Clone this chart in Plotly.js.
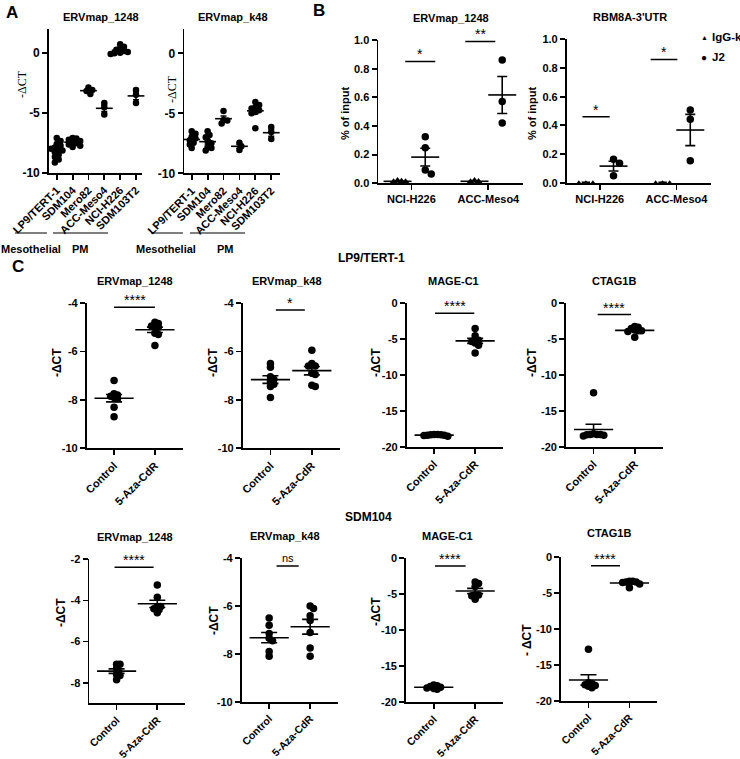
<!DOCTYPE html>
<html><head><meta charset="utf-8">
<script src="https://cdn.plot.ly/plotly-3.0.1.min.js"></script>
<style>html,body{margin:0;padding:0;background:#fff}</style>
</head><body>
<div id="chart" style="width:740px;height:759px"></div>
<script>
// ---------------- DATA ----------------
const cellLines = ['LP9/TERT-1','SDM104','Mero82','ACC-Meso4','NCI-H226','SDM103T2'];
const aErv1248 = [
  [-7.1,-7.35,-7.6,-7.75,-7.9,-8.0,-8.05,-8.15,-8.3,-8.5,-8.7,-8.9,-9.15],
  [-7.1,-7.15,-7.25,-7.35,-7.45,-7.55,-7.65,-7.75,-7.85],
  [-2.9,-3.1,-3.2,-3.45],
  [-4.2,-4.55,-5.15],
  [0.7,0.5,0.35,0.25,0.15,0.05,0.0,-0.05,-0.1],
  [-3.1,-3.5,-4.2]
];
const aErvK48 = [
  [-6.5,-6.7,-6.95,-7.1,-7.25,-7.45,-7.6,-7.9],
  [-6.5,-6.8,-7.0,-7.3,-7.5,-7.8,-7.9,-8.1],
  [-4.8,-5.55,-5.6,-5.85],
  [-7.45,-7.75,-8.05],
  [-4.05,-4.3,-4.5,-4.6,-4.75,-4.9,-5.0,-6.25],
  [-6.15,-6.55,-7.15]
];

const chipCells = ['NCI-H226','ACC-Meso4'];
const chipSeries = ['IgG-k','J2'];
const ervChipIgG = [[0.02,0.015,0.01,0.01],[0.02,0.012,0.01]];
const ervChipJ2  = [[0.325,0.248,0.093,0.065],[0.86,0.57,0.42]];
const rbmChipIgG = [[0.003,0.003,0.003],[0.003,0.003,0.003]];
const rbmChipJ2  = [[0.163,0.135,0.049],[0.507,0.442,0.153]];

const treatments = ['Control','5-Aza-CdR'];
const lp9Erv1248 = [[-7.2,-7.75,-7.8,-7.85,-7.9,-7.95,-8.3,-8.7],[-4.8,-4.85,-4.95,-4.95,-5.0,-5.25,-5.3,-5.75]];
const lp9ErvK48  = [[-6.5,-6.65,-7.05,-7.15,-7.25,-7.35,-7.45,-7.9],[-5.95,-6.5,-6.6,-6.6,-6.9,-6.95,-7.4,-7.45]];
const lp9MageC1  = [[-18.3,-18.3,-18.35,-18.35,-18.4,-18.4,-18.45,-18.55],[-3.6,-4.6,-5.1,-5.2,-5.4,-5.6,-5.9,-7.0]];
const lp9Ctag1b  = [[-12.5,-18.2,-18.3,-18.3,-18.3,-18.35,-18.4,-18.5],[-3.3,-3.4,-3.6,-3.8,-3.9,-3.9,-4.0,-4.8]];
const sdmErv1248 = [[-7.1,-7.1,-7.3,-7.45,-7.6,-7.65,-7.85],[-3.25,-3.85,-4.3,-4.3,-4.4,-4.45,-4.6]];
const sdmErvK48  = [[-6.5,-6.8,-7.15,-7.35,-7.45,-7.9,-8.1],[-6.0,-6.1,-6.4,-6.6,-7.1,-7.75,-8.1]];
const sdmMageC1  = [[-17.6,-17.7,-17.8,-17.9,-18.0,-18.1,-18.2],[-3.3,-3.5,-3.9,-5.1,-5.1,-5.2,-5.7]];
const sdmCtag1b  = [[-12.85,-17.5,-17.6,-17.8,-17.9,-18.0,-18.2],[-3.4,-3.4,-3.5,-3.5,-3.6,-3.8,-4.3]];

// ---------------- HELPERS ----------------
const W = 740, H = 759;
const FONT = 'Arial, "Liberation Sans", Helvetica, sans-serif';
const SERIF = '"Times New Roman", "Liberation Serif", serif';
const traces = [], annotations = [], shapes = [];
const layout = {
  width: W, height: H, margin: {l:0, r:0, t:0, b:0}, autosize: false,
  paper_bgcolor: '#fff', plot_bgcolor: 'rgba(0,0,0,0)', showlegend: false,
  font: {family: FONT, size: 11, color: '#000', weight: 'bold'}
};
function axisBase(){
  return {showline:true, linecolor:'#000', linewidth:1.8, ticks:'outside', ticklen:5,
    tickwidth:1.8, tickcolor:'#000', showgrid:false, zeroline:false, fixedrange:true,
    tickfont: {family: FONT, size: 11, color: '#000', weight: 'bold'}};
}
let axN = 0;
function addAxes(box, xr, yr, xopts, yopts){
  axN++; const s = axN === 1 ? '' : String(axN);
  layout['xaxis'+s] = Object.assign(axisBase(), {domain:[box[0]/W, box[1]/W], range:xr, anchor:'y'+s}, xopts);
  layout['yaxis'+s] = Object.assign(axisBase(), {domain:[1-box[3]/H, 1-box[2]/H], range:yr, anchor:'x'+s}, yopts);
  return {x:'x'+s, y:'y'+s, kx:(box[1]-box[0])/(xr[1]-xr[0]), ky:(box[3]-box[2])/(yr[1]-yr[0])};
}
function stats(v){
  const n = v.length, m = v.reduce((a,b)=>a+b,0)/n;
  const sd = Math.sqrt(v.reduce((a,b)=>a+(b-m)*(b-m),0)/(n-1));
  return [m, sd/Math.sqrt(n)];
}
function swarm(vals, cx, ax, sep){
  const order = vals.map((v,i)=>i).sort((a,b)=>vals[b]-vals[a]);
  const placed = [], xs = new Array(vals.length);
  for (const i of order){
    const yp = vals[i]*ax.ky; let off = 0;
    for (let k=0;k<60;k++){
      const c = k===0 ? 0 : (k%2 ? 1 : -1)*Math.ceil(k/2)*sep*0.5;
      if (placed.every(p => Math.hypot(p.x-c, p.y-yp) >= sep)){ off = c; break; }
    }
    placed.push({x:off, y:yp}); xs[i] = cx + off/ax.kx;
  }
  return xs;
}
function addGroup(ax, cx, vals, o){
  const xs = swarm(vals, cx, ax, o.sep);
  traces.push({type:'scatter', mode:'markers', x:xs, y:vals, xaxis:ax.x, yaxis:ax.y,
    marker:{color:'#000', size:o.size, symbol:o.symbol || 'circle', line:{width:0}},
    hoverinfo:'skip', cliponaxis:false});
  const st = stats(vals);
  traces.push({type:'scatter', mode:'markers', x:[cx], y:[st[0]], xaxis:ax.x, yaxis:ax.y,
    marker:{symbol:'line-ew', size:o.meanW, color:'#000', line:{width:1.6, color:'#000'}},
    error_y:{type:'data', array:[st[1]], visible:true, color:'#000', thickness:1.6, width:o.cap},
    hoverinfo:'skip', cliponaxis:false});
}
function sig(ax, x0, x1, y, label, o){
  o = o || {};
  traces.push({type:'scatter', mode:'lines', x:[x0,x1], y:[y,y], xaxis:ax.x, yaxis:ax.y,
    line:{color:'#000', width:1.5}, hoverinfo:'skip', cliponaxis:false});
  annotations.push({xref:ax.x, yref:ax.y, x:(x0+x1)/2, y:y, text:label, showarrow:false,
    xanchor:'center', yanchor:'bottom', yshift: o.yshift !== undefined ? o.yshift : -3,
    font:{family:FONT, size:o.size || 14, color:'#000', weight:'normal'}});
}
function txt(text, x, y, o){
  o = o || {};
  annotations.push({xref:'paper', yref:'paper', x:x/W, y:1-y/H, text:text, showarrow:false,
    xanchor:o.xanchor || 'center', yanchor:'middle', textangle:o.angle || 0,
    font:{family:o.family || FONT, size:o.size || 11, color:'#000', weight:o.weight || 'bold'}});
}
function hline(x0, x1, y){
  shapes.push({type:'line', xref:'paper', yref:'paper', x0:x0/W, x1:x1/W, y0:1-y/H, y1:1-y/H,
    line:{color:'#000', width:1}});
}
function ticksOf(vals, fmt){ return {tickvals: vals, ticktext: vals.map(fmt || (v => String(v)))}; }

// ---------------- PANEL A ----------------
const aIdx = cellLines.map((c,i)=>i);
const aX = {tickangle:-45, tickvals:aIdx, ticktext:cellLines};
const aY = Object.assign(ticksOf([0,-5,-10]), {tickfont:{family: FONT, size: 12, color: '#000', weight: 'bold'}});
const aStyle = {size:6.5, sep:3.8, meanW:12, cap:3};
const axA1 = addAxes([49,141.7,28.7,172.7], [-0.49,5.36], [-10,2], aX, aY);
aErv1248.forEach((v,i)=>addGroup(axA1, i, v, aStyle));
const axA2 = addAxes([184.3,280,29.3,173.3], [-0.465,5.55], [-10,2], Object.assign({}, aX), aY);
aErvK48.forEach((v,i)=>addGroup(axA2, i, v, aStyle));
txt('ERVmap_1248', 100.5, 17);
txt('ERVmap_k48', 233, 17);
txt('-ΔCT', 22, 84, {angle:-90, family:SERIF, weight:'normal', size:12});
txt('-ΔCT', 172, 89, {angle:-90, family:SERIF, weight:'normal', size:12});
hline(15,47,233); hline(53,108,233); hline(151,183,233); hline(190,245,233);
txt('Mesothelial', 31, 249); txt('PM', 80, 249);
txt('Mesothelial', 166, 249); txt('PM', 225, 249);

// ---------------- PANEL B ----------------
const bX = {tickvals:[0,1], ticktext:chipCells, tickangle:0};
const bY = ticksOf([0,0.2,0.4,0.6,0.8,1.0], v => v.toFixed(1));
const axB1 = addAxes([378.3,523,40,183.3], [-0.43,1.45], [0,1], bX, bY);
const axB2 = addAxes([566.7,711,39.3,182.7], [-0.43,1.45], [0,1], Object.assign({}, bX), bY);
const gOff = 0.18;
ervChipIgG.forEach((v,i)=>addGroup(axB1, i-gOff, v, {size:7, symbol:'triangle-up', sep:4, meanW:20, cap:5}));
ervChipJ2.forEach((v,i)=>addGroup(axB1, i+gOff, v, {size:7.5, sep:6, meanW:20, cap:5}));
rbmChipIgG.forEach((v,i)=>addGroup(axB2, i-gOff, v, {size:4, symbol:'triangle-up', sep:7, meanW:0, cap:0}));
rbmChipJ2.forEach((v,i)=>addGroup(axB2, i+gOff, v, {size:7.5, sep:6, meanW:20, cap:5}));
sig(axB1, 0-0.08, 0+0.31, 0.85, '*');
sig(axB1, 1-0.30, 1+0.09, 0.99, '**');
sig(axB2, 0-0.225, 0+0.13, 0.46, '*');
sig(axB2, 1-0.336, 1+0.012, 0.86, '*');
txt('ERVmap_1248', 451, 18);
txt("RBM8A-3'UTR", 630, 17);
txt('% of input', 345, 114, {angle:-90});
txt('% of input', 532, 114, {angle:-90});
txt('▲', 704, 37, {size:7, weight:'normal'});
txt(chipSeries[0], 710, 37, {xanchor:'left', size:11.5});
txt('●', 704, 57, {size:10, weight:'normal'});
txt(chipSeries[1], 710, 57, {xanchor:'left', size:11.5});

// ---------------- PANEL C ----------------
const cX = {tickvals:[0,1], ticktext:treatments, tickangle:-45};
const cStyle = {size:7.5, sep:3.4, meanW:28, cap:8};
const cxr = [-0.67,1.68];
function cPanel(box, yr, yt, data, sg, title, tpos, ylab, ypos, tfs){
  const xo = Object.assign({}, cX);
  xo.tickfont = {family: FONT, size: tfs || 11, color: '#000', weight: 'bold'};
  const ax = addAxes(box, cxr, yr, xo, ticksOf(yt));
  data.forEach((v,i)=>addGroup(ax, i, v, cStyle));
  sig(ax, sg[0], sg[1], sg[2], sg[3], sg[3]==='ns' ? {size:11, yshift:0} : {});
  txt(title, tpos[0], tpos[1]);
  txt(ylab, ypos[0], ypos[1], {angle:-90, size:12});
  return ax;
}
cPanel([86.7,182.7,303,448.3], [-10,-4], [-4,-6,-8,-10], lp9Erv1248, [0,1,-4.18,'****'], 'ERVmap_1248', [135,281], '-ΔCT', [57,363]);
cPanel([242.7,340,303,448.3], [-10,-4], [-4,-6,-8,-10], lp9ErvK48, [0.13,0.83,-4.29,'*'], 'ERVmap_k48', [287,281], '-ΔCT', [213,363]);
cPanel([406.7,503,302.7,446.7], [-20,0], [0,-5,-10,-15,-20], lp9MageC1, [0.02,0.98,-1.47,'****'], 'MAGE-C1', [453,281], '-ΔCT', [376,363]);
cPanel([566,662.7,302.7,446.7], [-20,0], [0,-5,-10,-15,-20], lp9Ctag1b, [0.1,0.91,-1.65,'****'], 'CTAG1B', [614,281], '-ΔCT', [532,363]);

cPanel([89.3,185,559.3,703.3], [-9,-2], [-2,-4,-6,-8], sdmErv1248, [-0.05,0.91,-2.39,'****'], 'ERVmap_1248', [135,537], '-ΔCT', [61,613], 10.5);
cPanel([241.7,338,558.3,701.7], [-10,-4], [-4,-6,-8,-10], sdmErvK48, [0.18,0.72,-4.32,'ns'], 'ERVmap_k48', [285,536], '-ΔCT', [214,621], 10.5);
cPanel([406,503.3,558.3,702.3], [-20,0], [0,-5,-10,-15,-20], sdmMageC1, [0.03,0.77,-1.07,'****'], 'MAGE-C1', [447,536], '-ΔCT', [376,612], 10.5);
cPanel([561,657.3,556.7,700.7], [-20,0], [0,-5,-10,-15,-20], sdmCtag1b, [0.06,0.77,-1.25,'****'], 'CTAG1B', [609,533], '- ΔCT', [527,640], 10.5);

txt('LP9/TERT-1', 371, 258, {size:12});
txt('SDM104', 368, 517, {size:12});

// panel letters
txt('A', 11.5, 12.5, {size:17});
txt('B', 319, 11, {size:17});
txt('C', 18, 266, {size:17});

layout.annotations = annotations;
layout.shapes = shapes;
Plotly.newPlot('chart', traces, layout, {staticPlot:true, displayModeBar:false});
</script>
</body></html>
